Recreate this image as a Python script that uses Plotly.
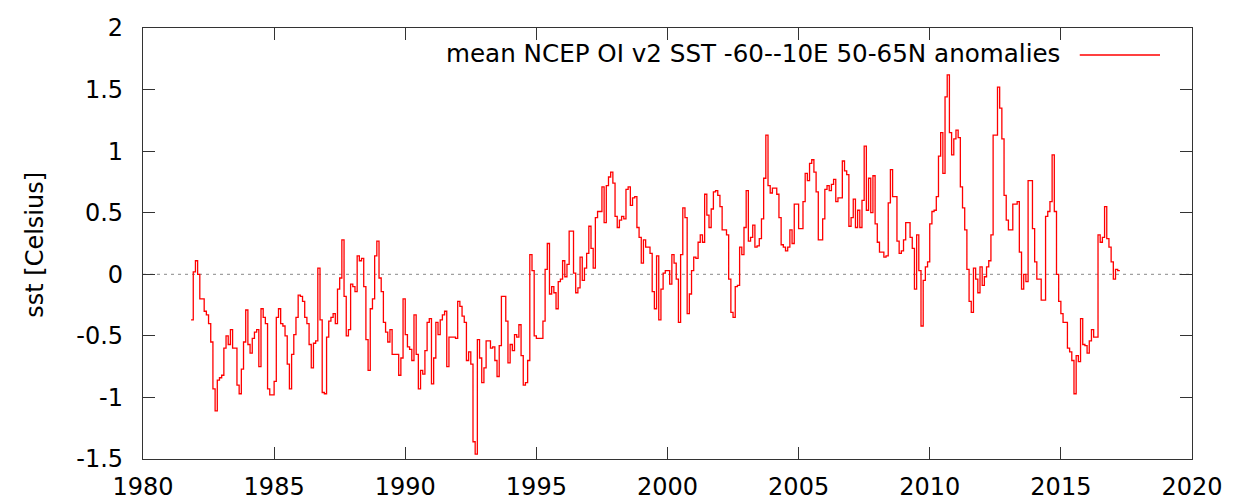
import numpy as np
import plotly.graph_objects as go

# ---- data: monthly mean NCEP OI v2 SST anomalies, -60--10E 50-65N (Celsius) ----
START_YEAR = 1981.833  # first monthly step (Nov/Dec 1981)

sst_1981_1986 = [-0.37, 0.02, 0.11, 0.0, -0.2, -0.2, -0.3, -0.33, -0.4, -0.55,
                 -0.93, -1.11, -0.86, -0.84, -0.82, -0.6, -0.5, -0.57, -0.45, -0.6,
                 -0.6, -0.9, -0.97, -0.77, -0.55, -0.29, -0.57, -0.64, -0.52, -0.47,
                 -0.45, -0.75, -0.28, -0.35, -0.4, -0.93, -0.98, -0.98, -0.87, -0.35,
                 -0.28, -0.4, -0.42, -0.5, -0.73, -0.93, -0.65, -0.49, -0.35, -0.17]

sst_1986_1990 = [-0.18, -0.22, -0.35, -0.4, -0.57, -0.76, -0.56, -0.54, 0.05, -0.37,
                 -0.96, -0.97, -0.51, -0.38, -0.35, -0.32, -0.4, -0.12, -0.03, 0.28,
                 -0.18, -0.5, -0.45, -0.08, -0.1, -0.14, 0.15, 0.11, 0.13, -0.1,
                 -0.53, -0.78, -0.28, -0.2, 0.15, 0.27, -0.03, -0.14, -0.39, -0.47,
                 -0.55, -0.45, -0.65, -0.65, -0.65, -0.82, -0.68, -0.2, -0.49, -0.59,
                 -0.61, -0.7, -0.33, -0.65, -0.93]

sst_1990_1995 = [-0.78, -0.81, -0.62, -0.39, -0.36, -0.89, -0.68, -0.39, -0.49, -0.37,
                 -0.33, -0.3, -0.75, -0.51, -0.51, -0.51, -0.52, -0.22, -0.26, -0.34,
                 -0.39, -0.7, -0.63, -0.73, -1.36, -1.46, -0.53, -0.68, -0.88, -0.76,
                 -0.54, -0.54, -0.6, -0.59, -0.7, -0.83, -0.58, -0.18, -0.18, -0.38,
                 -0.72, -0.57, -0.62, -0.49, -0.51, -0.41, -0.66, -0.9, -0.88, -0.7,
                 0.16, 0.03]

sst_1995_1999 = [-0.5, -0.52, -0.52, -0.52, -0.38, 0.04, 0.25, -0.16, -0.1, -0.15,
                 -0.28, -0.06, -0.04, 0.11, -0.02, 0.08, 0.35, 0.35, 0.01, -0.15,
                 -0.11, 0.14, -0.05, 0.05, 0.17, 0.39, 0.21, 0.05, 0.46, 0.51,
                 0.51, 0.71, 0.42, 0.72, 0.79, 0.83, 0.74, 0.47, 0.38, 0.44,
                 0.47, 0.45, 0.69, 0.71, 0.56, 0.62, 0.63, 0.38, 0.3, 0.09,
                 0.28]

sst_1999_2003 = [0.22, 0.22, 0.17, -0.14, -0.28, 0.15, -0.37, -0.12, 0.01, 0.03,
                 0.03, -0.08, 0.16, 0.09, -0.04, -0.39, 0.16, 0.54, 0.46, -0.32,
                 -0.16, 0.03, 0.14, 0.13, 0.26, 0.32, 0.26, 0.65, 0.48, 0.38,
                 0.53, 0.67, 0.68, 0.64, 0.55, 0.36, 0.36, 0.32, -0.04, -0.31,
                 -0.35, -0.1, -0.09, 0.22, 0.16, 0.38, 0.68, 0.27, 0.3, 0.4,
                 0.22, 0.23, 0.29, 0.45, 0.78]

sst_2003_2008 = [1.13, 0.72, 0.66, 0.7, 0.7, 0.65, 0.46, 0.24, 0.22, 0.19,
                 0.22, 0.36, 0.25, 0.57, 0.57, 0.37, 0.37, 0.59, 0.82, 0.76,
                 0.9, 0.93, 0.83, 0.67, 0.28, 0.28, 0.45, 0.69, 0.72, 0.68,
                 0.73, 0.77, 0.59, 0.62, 0.62, 0.92, 0.84, 0.81, 0.39, 0.46,
                 0.61, 0.38, 0.52, 0.38, 0.6, 1.04, 0.52, 0.78, 0.5, 0.8,
                 0.41, 0.26, 0.18]

sst_2008_2012 = [0.18, 0.14, 0.15, 0.58, 0.85, 0.63, 0.63, 0.27, 0.17, 0.19,
                 0.28, 0.42, 0.42, 0.3, 0.21, -0.12, 0.32, 0.03, -0.42, -0.05,
                 0.06, 0.1, 0.41, 0.51, 0.52, 0.63, 0.96, 1.15, 0.82, 1.44,
                 1.62, 1.15, 0.97, 1.1, 1.17, 1.11, 0.71, 0.54, 0.36, 0.04,
                 -0.22, -0.31, 0.05, -0.04, -0.15, 0.06, -0.09, -0.02, 0.06, 0.11,
                 0.32, 1.13]

sst_2012_2017 = [1.13, 1.52, 1.35, 1.1, 0.64, 0.44, 0.36, 0.36, 0.57, 0.57,
                 0.59, 0.18, -0.12, 0.0, -0.06, 0.76, 0.76, 0.37, 0.1, -0.04,
                 -0.04, -0.21, -0.21, 0.47, 0.51, 0.59, 0.97, 0.51, 0.0, -0.22,
                 -0.32, -0.39, -0.39, -0.6, -0.63, -0.7, -0.97, -0.66, -0.71, -0.36,
                 -0.57, -0.58, -0.64, -0.54, -0.45, -0.51, -0.51, 0.32, 0.26, 0.3,
                 0.55, 0.29, 0.22, 0.1, -0.04, 0.04, 0.03]

x_tick_years = [1980, 1985, 1990, 1995, 2000, 2005, 2010, 2015, 2020]
y_tick_vals = [-1.5, -1, -0.5, 0, 0.5, 1, 1.5, 2]
y_tick_text = ["-1.5", "-1", "-0.5", "0", "0.5", "1", "1.5", "2"]

series_name = "mean NCEP OI v2 SST -60--10E 50-65N anomalies"
y_title = "sst [Celsius]"

# ---- build series ----
values = np.concatenate([sst_1981_1986, sst_1986_1990, sst_1990_1995, sst_1995_1999,
                         sst_1999_2003, sst_2003_2008, sst_2008_2012, sst_2012_2017])
years = START_YEAR + np.arange(len(values)) / 12.0
x = np.append(years, years[-1] + 1 / 12.0)
y = np.append(values, values[-1])

FONT = "DejaVu Sans"
FS = 24
RED = "#ff0000"
FRAME = "#333333"

fig = go.Figure()
fig.add_trace(go.Scatter(x=x, y=y, mode="lines", line=dict(color=RED, width=1.3, shape="hv"),
                         name=series_name, showlegend=False, hoverinfo="x+y"))

# zero line (dotted gray)
fig.add_shape(type="line", xref="paper", yref="y", x0=0, x1=1, y0=0, y1=0,
              line=dict(color="#a0a0a0", width=1.3, dash="3px,4px"), layer="below")

# key, gnuplot-style: text then line sample on the right
fig.add_annotation(xref="paper", yref="paper", x=0.876, y=0.9397, xanchor="right", yanchor="middle",
                   text=series_name, showarrow=False, font=dict(family=FONT, size=24.6, color="#000000"))
fig.add_shape(type="line", xref="paper", yref="paper", x0=0.893, x1=0.9695, y0=0.9374, y1=0.9374,
              line=dict(color=RED, width=1.3))

# y-axis title
fig.add_annotation(xref="paper", yref="paper", x=-0.103, y=0.497, xanchor="center", yanchor="middle",
                   text=y_title, textangle=-90, showarrow=False,
                   font=dict(family=FONT, size=FS, color="#000000"))

axis_common = dict(showline=True, linecolor=FRAME, linewidth=1.3, mirror="allticks",
                   ticks="inside", ticklen=12, tickwidth=1.3, tickcolor=FRAME,
                   showgrid=False, zeroline=False, automargin=False,
                   tickfont=dict(family=FONT, size=FS, color="#000000"))

# the page body adds an 8 px offset; the figure is sized so the plot frame lands
# at x 143..1192, y 28..459 in the 1233x500 window
fig.update_layout(
    width=1225, height=492,
    margin=dict(l=135, r=41, t=20, b=40.7, pad=0, autoexpand=False),
    paper_bgcolor="white", plot_bgcolor="white",
    showlegend=False,
    xaxis=dict(range=[1980, 2020], tickmode="array", tickvals=x_tick_years,
               ticktext=[str(v) for v in x_tick_years], ticklabelstandoff=6, **axis_common),
    yaxis=dict(range=[-1.5, 2], tickmode="array", tickvals=y_tick_vals,
               ticktext=y_tick_text, ticklabelstandoff=14, **axis_common),
)

fig.write_html("out.html")
